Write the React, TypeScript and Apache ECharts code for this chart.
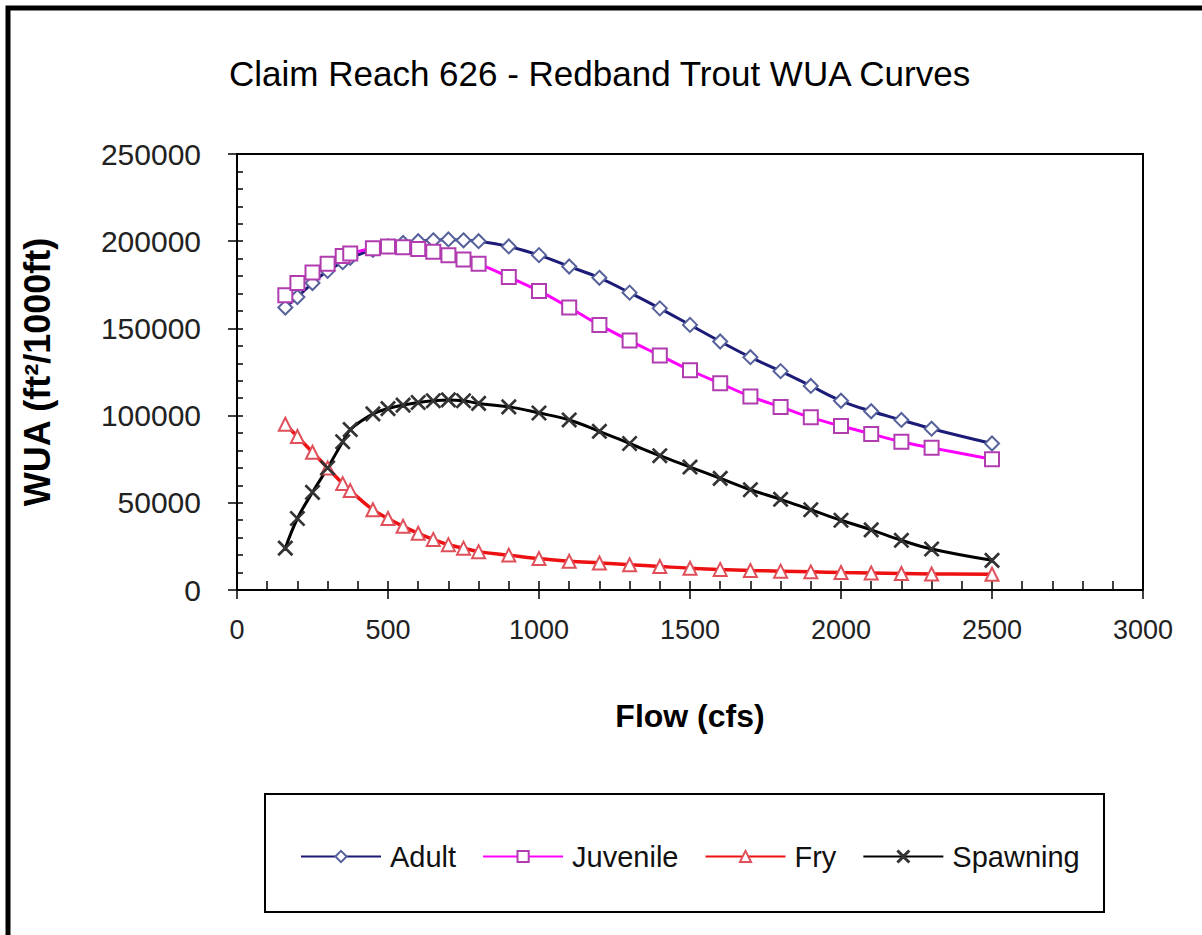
import React, { useEffect, useRef } from "react";
import * as echarts from "echarts";

const titleText = "Claim Reach 626 - Redband Trout WUA Curves";
const xName = "Flow (cfs)";
const yName = "WUA (ft²/1000ft)";
const seriesNames = ["Adult", "Juvenile", "Fry", "Spawning"];

const flows = [160, 200, 250, 300, 350, 375, 450, 500, 550, 600, 650, 700, 750, 800, 900, 1000, 1100, 1200, 1300, 1400, 1500, 1600, 1700, 1800, 1900, 2000, 2100, 2200, 2300, 2500];
const adult = [162000, 168000, 176000, 183000, 188000, 190500, 195000, 197000, 199000, 200000, 200500, 201000, 200500, 200000, 197000, 192000, 185500, 179000, 170500, 161500, 152000, 142500, 133500, 125500, 117000, 108500, 102500, 97500, 92500, 84000];
const juvenile = [169000, 176000, 182000, 187000, 191500, 193000, 196000, 197000, 196500, 195500, 194000, 192000, 189500, 187000, 179500, 171500, 162000, 152000, 143000, 134500, 126000, 118500, 111000, 105000, 99000, 94000, 89500, 85000, 81500, 75000];
const fry = [95000, 88000, 79000, 70000, 61000, 57000, 46000, 41000, 36500, 32500, 29000, 26000, 24000, 22000, 20000, 18000, 16500, 15500, 14500, 13500, 12500, 11800, 11200, 10800, 10400, 10000, 9800, 9500, 9200, 9000];
const spawning = [24000, 41000, 56000, 70000, 85000, 92000, 101000, 104000, 106000, 107500, 108500, 109000, 108500, 107000, 105000, 101500, 97500, 91000, 84000, 77000, 70500, 64000, 57500, 52000, 46000, 40000, 34500, 28500, 23500, 17000];

const xMin = 0, xMax = 3000, xMajor = 500, xMinor = 100;
const yMin = 0, yMax = 250000, yMajor = 50000, yMinor = 10000;

const FONT = "'Liberation Sans', Arial, sans-serif";
const X_SYMBOL = "path://M0,0.6 L0.6,0 L5,4.4 L9.4,0 L10,0.6 L5.6,5 L10,9.4 L9.4,10 L5,5.6 L0.6,10 L0,9.4 L4.4,5 Z";

export default function App() {
  const ref = useRef<HTMLDivElement>(null);
  useEffect(() => {
    if (!ref.current) return;
    const chart = echarts.init(ref.current, null, { renderer: "svg" });
    const pair = (vals: number[]) => flows.map((f, i) => [f, vals[i]]);
    const plain = (v: number) => String(v);
    const mk = (name: string, vals: number[], lineColor: string, markColor: string, symbol: string, size: number, lw: number) => ({
      name,
      type: "line",
      data: pair(vals),
      xAxisIndex: 0,
      yAxisIndex: 0,
      smooth: 0.4,
      symbol,
      symbolSize: size,
      showAllSymbol: true,
      lineStyle: { color: lineColor, width: lw },
      itemStyle: { color: markColor, borderColor: markColor, borderWidth: 1.5 },
      emphasis: { disabled: true },
    });
    chart.setOption({
      animation: false,
      backgroundColor: "#fff",
      title: {
        text: titleText,
        left: 224,
        top: 51,
        textStyle: { fontFamily: FONT, fontSize: 35, fontWeight: "normal", color: "#000" },
      },
      legend: {
        left: 295,
        top: 837,
        itemWidth: 80,
        itemHeight: 14,
        itemGap: 26,
        data: seriesNames,
        textStyle: { fontFamily: FONT, fontSize: 29, color: "#111", padding: [0, 0, 0, 4] },
      },
      grid: {
        left: 237,
        right: 59,
        top: 154,
        bottom: 345,
        show: true,
        borderColor: "#000",
        borderWidth: 2,
        containLabel: false,
      },
      xAxis: [
        {
          type: "value",
          min: xMin,
          max: xMax,
          interval: xMajor,
          position: "bottom",
          name: xName,
          nameLocation: "middle",
          nameGap: 110,
          nameTextStyle: { fontFamily: FONT, fontSize: 32, fontWeight: "bold", color: "#000" },
          axisLine: { show: true, lineStyle: { color: "#000", width: 2 } },
          axisTick: { show: true, inside: false, length: 9, lineStyle: { color: "#000", width: 1.5 } },
          axisLabel: { fontFamily: FONT, fontSize: 27, color: "#222", margin: 26, formatter: plain },
          splitLine: { show: false },
        },
        {
          type: "value",
          min: xMin,
          max: xMax,
          interval: xMinor,
          position: "bottom",
          axisLine: { show: false },
          axisTick: { show: true, inside: true, length: 9, lineStyle: { color: "#000", width: 1.5 } },
          axisLabel: { show: false },
          splitLine: { show: false },
        },
      ],
      yAxis: [
        {
          type: "value",
          min: yMin,
          max: yMax,
          interval: yMajor,
          position: "left",
          name: yName,
          nameLocation: "middle",
          nameGap: 182,
          nameTextStyle: { fontFamily: FONT, fontSize: 36, fontWeight: "bold", color: "#000" },
          axisLine: { show: true, lineStyle: { color: "#000", width: 2 } },
          axisTick: { show: true, inside: false, length: 9, lineStyle: { color: "#000", width: 1.5 } },
          axisLabel: { fontFamily: FONT, fontSize: 30, color: "#222", margin: 36, formatter: plain },
          splitLine: { show: false },
        },
        {
          type: "value",
          min: yMin,
          max: yMax,
          interval: yMinor,
          position: "left",
          axisLine: { show: false },
          axisTick: { show: true, inside: true, length: 6, lineStyle: { color: "#000", width: 1.5 } },
          axisLabel: { show: false },
          splitLine: { show: false },
        },
      ],
      graphic: [
        {
          type: "rect",
          shape: { x: 8, y: 8, width: 1210, height: 950 },
          style: { fill: "none", stroke: "#000", lineWidth: 5 },
          silent: true,
        },
        {
          type: "rect",
          shape: { x: 265, y: 794, width: 839, height: 118 },
          style: { fill: "none", stroke: "#000", lineWidth: 2 },
          silent: true,
        },
      ],
      series: [
        mk(seriesNames[0], adult, "#1c1c78", "#56609a", "emptyDiamond", 14, 3),
        mk(seriesNames[1], juvenile, "#ff00ff", "#b03cb0", "emptyRect", 14, 3),
        mk(seriesNames[2], fry, "#ee1111", "#e0505a", "emptyTriangle", 13, 3.5),
        mk(seriesNames[3], spawning, "#000000", "#333333", X_SYMBOL, 14, 3),
      ],
    });
    return () => chart.dispose();
  }, []);
  return (
    <div
      ref={ref}
      style={{ position: "fixed", left: 0, top: 0, width: 1202, height: 935, background: "#fff" }}
    />
  );
}
